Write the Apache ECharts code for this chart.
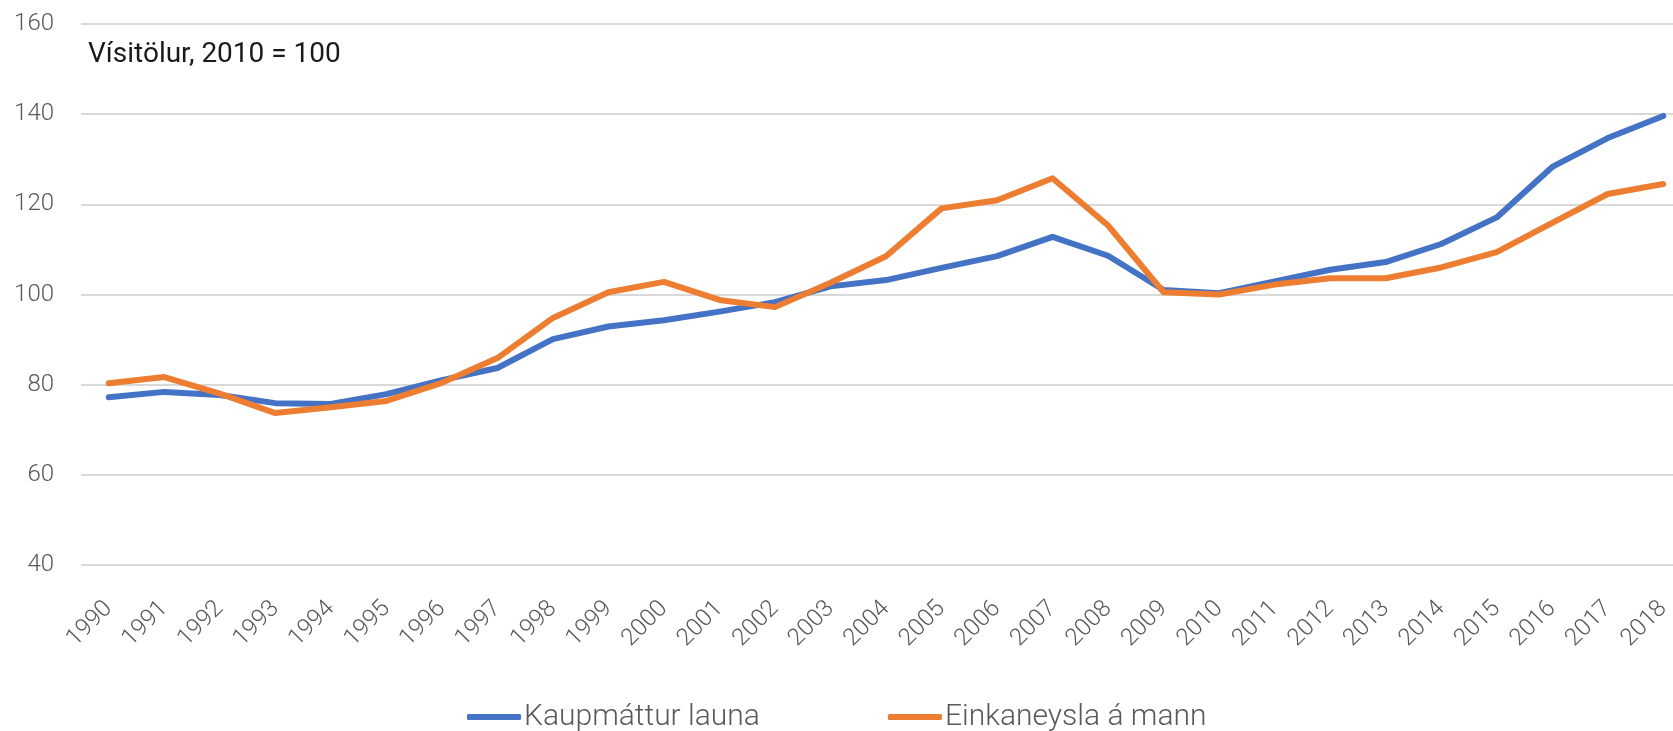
<!DOCTYPE html>
<html>
<head>
<meta charset="utf-8">
<script src="https://cdn.jsdelivr.net/npm/echarts@6/dist/echarts.min.js"></script>
<style>
  html, body { margin: 0; padding: 0; background: #fff; overflow: hidden; }
</style>
</head>
<body>
<!-- aðeins breiðara en glugginn: síðasti hluti plotsvæðisins fellur út fyrir hægri brún -->
<div id="chart" style="width:1691px;height:731px;"></div>
<script>
// ár
const years = ['1990', '1991', '1992', '1993', '1994', '1995', '1996', '1997', '1998', '1999',
  '2000', '2001', '2002', '2003', '2004', '2005', '2006', '2007', '2008', '2009',
  '2010', '2011', '2012', '2013', '2014', '2015', '2016', '2017', '2018']

// Kaupmáttur launa
const kaupmattur = [77.2, 78.4, 77.7, 75.9, 75.7, 77.9, 81.0, 83.7, 90.1, 92.9,
  94.3, 96.2, 98.3, 101.8, 103.2, 105.9, 108.5, 112.8, 108.6, 101.0,
  100.3, 102.9, 105.5, 107.2, 111.2, 117.1, 128.3, 134.7, 139.6]

// Einkaneysla á mann
const einkaneysla = [80.3, 81.7, 78.0, 73.7, 75.0, 76.4, 80.4, 85.9, 94.8, 100.5,
  102.8, 98.8, 97.2, 102.6, 108.5, 119.1, 120.9, 125.8, 115.3, 100.5,
  100.0, 102.2, 103.6, 103.6, 106.0, 109.4, 115.9, 122.3, 124.5]

const chart = echarts.init(document.getElementById('chart'))

const labelFont = { color: '#595959', fontSize: 24, fontFamily: 'Roboto', fontWeight: 300 }

const option = {
  animation: false,
  backgroundColor: '#fff',
  grid: { left: 81, right: 0, top: 24, bottom: 166, containLabel: false },
  title: {
    text: 'Vísitölur, 2010 = 100',
    left: 83,
    top: 36,
    textStyle: { color: '#1a1a1a', fontSize: 28, fontWeight: 'normal', fontFamily: 'Roboto' }
  },
  legend: {
    left: 462,
    top: 697,
    itemWidth: 54,
    itemHeight: 6,
    itemGap: 128,
    icon: 'roundRect',
    textStyle: { color: '#595959', fontSize: 30, fontFamily: 'Roboto', fontWeight: 300, padding: [0, 0, 0, -2] },
    data: ['Kaupmáttur launa', 'Einkaneysla á mann']
  },
  xAxis: {
    type: 'category',
    data: years,
    boundaryGap: true,
    axisLine: { show: false },
    axisTick: { show: false },
    axisLabel: Object.assign({ rotate: 45, margin: 40, interval: 0 }, labelFont)
  },
  yAxis: {
    type: 'value',
    min: 40,
    max: 160,
    interval: 20,
    axisLine: { show: false },
    axisTick: { show: false },
    axisLabel: Object.assign({ margin: 27 }, labelFont),
    splitLine: { lineStyle: { color: '#d9d9d9', width: 2 } }
  },
  series: [
    {
      name: 'Kaupmáttur launa',
      type: 'line',
      data: kaupmattur,
      symbol: 'none',
      color: '#4472C4',
      lineStyle: { width: 6, cap: 'round', join: 'round' }
    },
    {
      name: 'Einkaneysla á mann',
      type: 'line',
      data: einkaneysla,
      symbol: 'none',
      color: '#ED7D31',
      lineStyle: { width: 6, cap: 'round', join: 'round' }
    }
  ]
}

chart.setOption(option)
</script>
</body>
</html>
